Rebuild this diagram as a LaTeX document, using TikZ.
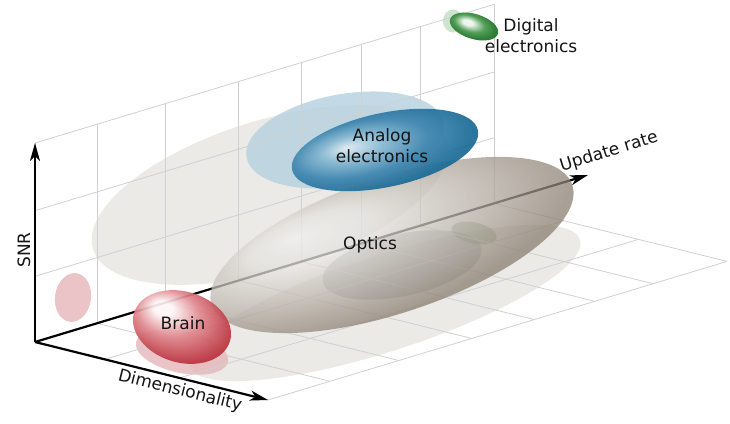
\documentclass[tikz,border=0pt]{standalone}
\usepackage{fontspec}
\setmainfont{DejaVu Sans}
\usetikzlibrary{arrows.meta}

\definecolor{gridgray}{RGB}{208,208,208}
\definecolor{palegray}{RGB}{230,229,224}
\definecolor{paleblue}{RGB}{180,209,224}
\definecolor{palered}{RGB}{229,181,184}
\definecolor{palegreen}{RGB}{193,221,193}
\definecolor{shadeblue}{RGB}{125,133,140}
\definecolor{shadegreen}{RGB}{95,125,85}
\definecolor{optlight}{RGB}{240,239,237}
\definecolor{optsoft}{RGB}{228,226,222}
\definecolor{optmid}{RGB}{190,183,174}
\definecolor{optdark}{RGB}{139,128,115}
\definecolor{anglight}{RGB}{228,238,243}
\definecolor{angsoft}{RGB}{140,188,212}
\definecolor{angmid}{RGB}{62,134,176}
\definecolor{angdark}{RGB}{26,106,150}
\definecolor{diglight}{RGB}{236,246,236}
\definecolor{digmid}{RGB}{70,150,75}
\definecolor{digdark}{RGB}{28,114,38}
\definecolor{brnlight}{RGB}{253,244,245}
\definecolor{brnmid}{RGB}{224,138,144}
\definecolor{brndark}{RGB}{187,50,62}

\pgfdeclareradialshading{opticsball}{\pgfpoint{-12bp}{14bp}}{color(0bp)=(optlight); color(8bp)=(optsoft); color(18bp)=(optmid); color(30bp)=(optdark); color(50bp)=(optdark)}
\pgfdeclareradialshading{analogball}{\pgfpoint{-10bp}{7bp}}{color(0bp)=(anglight); color(8bp)=(angsoft); color(18bp)=(angmid); color(28bp)=(angdark); color(50bp)=(angdark)}
\pgfdeclareradialshading{digitalball}{\pgfpoint{-8bp}{5bp}}{color(0bp)=(diglight); color(5bp)=(diglight); color(16bp)=(digmid); color(26bp)=(digdark); color(50bp)=(digdark)}
\pgfdeclareradialshading{brainball}{\pgfpoint{-13bp}{10bp}}{color(0bp)=(brnlight); color(5bp)=(brnlight); color(16bp)=(brnmid); color(30bp)=(brndark); color(50bp)=(brndark)}

\begin{document}
\begin{tikzpicture}[x={(233pt,-58pt)}, y={(0pt,199pt)}, z={(459pt,138.6pt)},
        font={\fontsize{17}{21}\selectfont},
        grid line/.style={draw=gridgray, line width=0.8pt},
        axis arrow/.style={line width=2.2pt, -{Stealth[length=18pt, width=10pt, inset=5pt]}},
        wall shade/.style={fill opacity=0.8},
        floor shade/.style={fill opacity=0.45},
        blob/.style={fill opacity=0.92},
        blob label/.style={text=black!92, align=center},
        axis label/.style={text=black!92}]

        \useasboundingbox (-35pt,-81pt) rectangle (695pt,342pt);

        \fill [wall shade, palegray, rotate around={17:(235pt,147pt)}] (235pt,147pt) ellipse [x radius=185pt, y radius=75pt];
        \fill [wall shade, paleblue, rotate around={10:(310pt,202pt)}] (310pt,202pt) ellipse [x radius=100pt, y radius=46pt];
        \fill [wall shade, palegreen] (418pt,321pt) ellipse [x radius=10pt, y radius=11.5pt];
        \fill [wall shade, palered, rotate around={-8:(38pt,44.5pt)}] (38pt,44.5pt) ellipse [x radius=18pt, y radius=24.5pt];

        \fill [wall shade, palegray, rotate around={18:(350pt,39pt)}] (350pt,39pt) ellipse [x radius=205pt, y radius=48pt];
        \fill [wall shade, palered, rotate around={-12:(147pt,-10pt)}] (147pt,-10pt) ellipse [x radius=47pt, y radius=21pt];
        \fill [floor shade, shadeblue, rotate around={12:(367pt,77pt)}] (367pt,77pt) ellipse [x radius=81pt, y radius=31pt];
        \fill [floor shade, shadegreen, rotate around={-12:(439pt,109pt)}] (439pt,109pt) ellipse [x radius=23pt, y radius=10.5pt];

        \foreach \z in {0,0.135,0.285,0.444,0.58,0.712,0.839,1} {
            \draw [grid line] (0,0,\z) -- (0,1,\z);
            \draw [grid line] (0,0,\z) -- (1,0,\z);
        }
        \foreach \y in {0.33,0.66,1}
            \draw [grid line] (0,\y,0) -- (0,\y,1);
        \foreach \x in {0.3,0.62,1}
            \draw [grid line] (\x,0,0) -- (\x,0,1);

        \coordinate (origin) at (0,0,0);
        \coordinate (snr end) at (0,1,0);
        \coordinate (dim end) at (1,0,0);
        \coordinate (upd end) at (0,0,1.205);

        \draw [axis arrow] (origin) -- (snr end);
        \draw [axis arrow] (origin) -- (dim end);
        \draw [axis arrow] (origin) -- (upd end);

        \shade [shading=opticsball, fill opacity=0.75, transform canvas={rotate around={18.4:(357pt,97pt)}}] (357pt,97pt) ellipse [x radius=190pt, y radius=68pt];
        \shade [blob, shading=analogball, transform canvas={rotate around={12:(350pt,192pt)}}] (350pt,192pt) ellipse [x radius=95pt, y radius=37pt];
        \shade [blob, shading=digitalball, transform canvas={rotate around={-17:(439pt,315.5pt)}}] (439pt,315.5pt) ellipse [x radius=25pt, y radius=12.5pt];
        \shade [blob, shading=brainball, transform canvas={rotate around={-16.5:(147pt,15pt)}}] (147pt,15pt) ellipse [x radius=50pt, y radius=35.5pt];

        \node [axis label, rotate=90] (snr label) at (-11pt,92pt) {SNR};
        \node [axis label, rotate=-14] (dim label) at (145pt,-49pt) {Dimensionality};
        \node [axis label, rotate=17] (upd label) at (574pt,190pt) {Update rate};

        \node [blob label] (optics label) at (335pt,97pt) {Optics};
        \node [blob label] (analog label) at (347pt,196pt) {Analog\\electronics};
        \node [blob label] (digital label) at (496pt,306pt) {Digital\\electronics};
        \node [blob label] (brain label) at (148pt,19pt) {Brain};

    \end{tikzpicture}
\end{document}
